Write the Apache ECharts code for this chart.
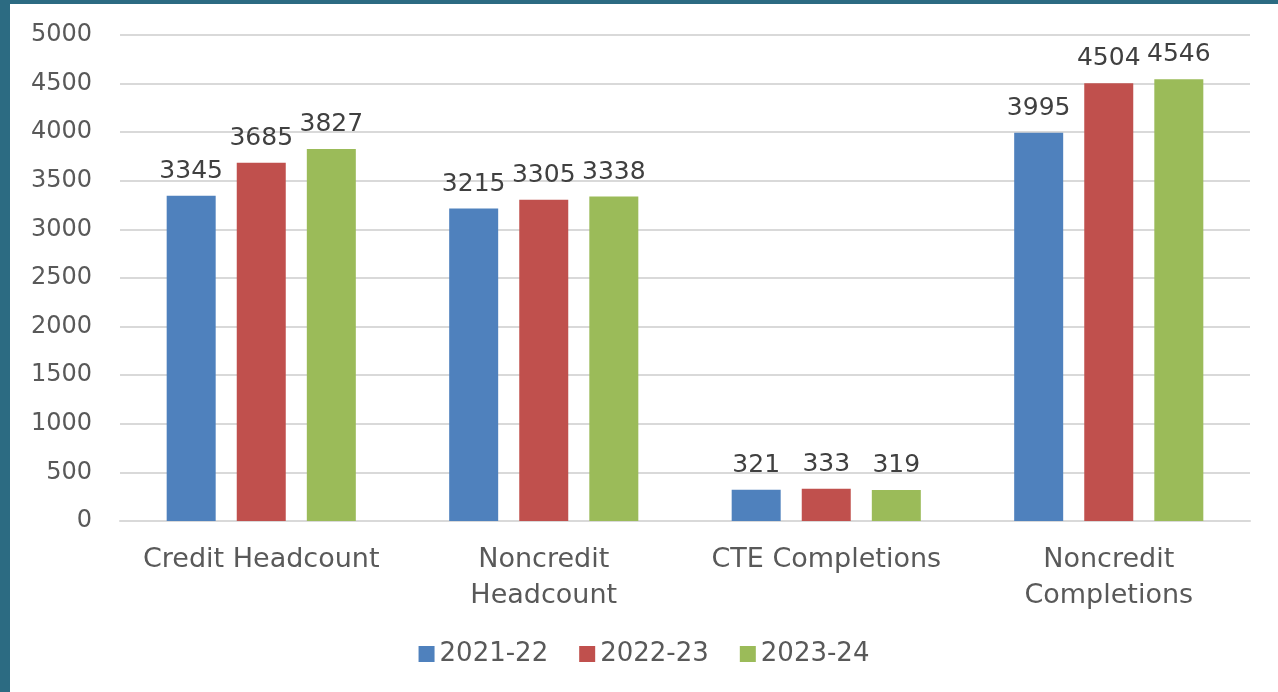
<!DOCTYPE html>
<html>
<head>
<meta charset="utf-8">
<script src="https://cdn.jsdelivr.net/npm/echarts@6/dist/echarts.min.js"></script>
<style>
html, body { margin: 0; padding: 0; background: #2c6b82; }
#container { position: absolute; left: 10px; top: 4px; width: 1268px; height: 688px; background: #fff; }
</style>
</head>
<body>
<div id="container"></div>
<script>
// 数据
var categories = ['Credit Headcount', 'Noncredit\nHeadcount', 'CTE Completions', 'Noncredit\nCompletions'];
var years = ['2021-22', '2022-23', '2023-24'];
var s2021 = [3345, 3215, 321, 3995];
var s2022 = [3685, 3305, 333, 4504];
var s2023 = [3827, 3338, 319, 4546];
var colors = ['#4f81bd', '#c0504d', '#9bbb59'];

var fontName = '"DejaVu Sans", sans-serif';

function makeSeries(name, data, color) {
    return {
        name: name,
        type: 'bar',
        data: data,
        barWidth: 49,
        barGap: '43%',
        itemStyle: { color: color },
        label: {
            show: true,
            position: 'top',
            distance: 12,
            fontSize: 25,
            color: '#404040',
            fontFamily: fontName
        }
    }
}

var myChart = echarts.init(document.getElementById('container'));
var option = {
    animation: false,
    textStyle: { fontFamily: fontName },
    grid: { left: 110, right: 28, top: 31, bottom: 171 },
    legend: {
        data: years,
        bottom: 20,
        left: 'center',
        itemWidth: 16,
        itemHeight: 16,
        itemGap: 31,
        icon: 'rect',
        textStyle: { fontSize: 26, color: '#595959', fontFamily: fontName }
    },
    xAxis: {
        type: 'category',
        data: categories,
        axisTick: { show: false },
        axisLine: { lineStyle: { color: '#d9d9d9', width: 2 } },
        axisLabel: { fontSize: 27, color: '#595959', margin: 21, lineHeight: 36, interval: 0 }
    },
    yAxis: {
        type: 'value',
        min: 0,
        max: 5000,
        interval: 500,
        axisLabel: { fontSize: 24, color: '#595959', margin: 28, formatter: function (v) { return String(v); } },
        splitLine: { lineStyle: { color: '#d9d9d9', width: 2 } }
    },
    series: [
        makeSeries(years[0], s2021, colors[0]),
        makeSeries(years[1], s2022, colors[1]),
        makeSeries(years[2], s2023, colors[2])
    ]
};
myChart.setOption(option);
</script>
</body>
</html>
